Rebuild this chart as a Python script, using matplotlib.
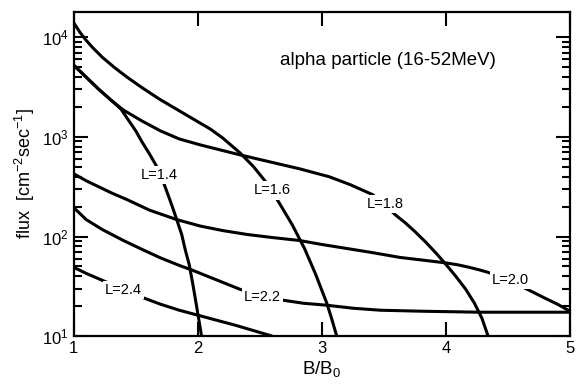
import matplotlib
matplotlib.use("Agg")
import matplotlib.pyplot as plt
import numpy as np
from matplotlib.ticker import LogLocator, NullFormatter, FixedLocator

plt.rcParams['font.family'] = ['Liberation Sans', 'DejaVu Sans']
plt.rcParams['mathtext.default'] = 'regular'

# data: B/B0 and log10(flux)
b_14 = [1.0, 1.1, 1.2, 1.3, 1.38, 1.44, 1.5, 1.55, 1.61, 1.67, 1.73, 1.78, 1.83, 1.87, 1.90, 1.93, 1.96, 1.99, 2.01, 2.03]
lf_14 = [3.72, 3.60, 3.48, 3.37, 3.28, 3.17, 3.06, 2.95, 2.83, 2.70, 2.52, 2.35, 2.17, 2.02, 1.86, 1.72, 1.52, 1.30, 1.15, 1.0]

b_16 = [1.0, 1.05, 1.1, 1.15, 1.23, 1.33, 1.43, 1.55, 1.69, 1.84, 1.99, 2.1, 2.2, 2.34, 2.45, 2.56, 2.66, 2.76, 2.86, 2.95, 3.04, 3.08, 3.12]
lf_16 = [4.146, 4.05, 3.97, 3.90, 3.80, 3.695, 3.60, 3.495, 3.38, 3.27, 3.16, 3.08, 2.99, 2.84, 2.70, 2.53, 2.33, 2.12, 1.88, 1.62, 1.33, 1.17, 1.0]

b_18 = [1.0, 1.1, 1.2, 1.3, 1.4, 1.55, 1.7, 1.85, 2.02, 2.18, 2.34, 2.58, 2.82, 3.06, 3.23, 3.41, 3.5, 3.59, 3.67, 3.75, 3.84, 3.93, 4.0, 4.08, 4.16, 4.23, 4.29, 4.34]
lf_18 = [3.72, 3.60, 3.48, 3.37, 3.27, 3.16, 3.06, 2.98, 2.92, 2.87, 2.82, 2.75, 2.68, 2.60, 2.52, 2.42, 2.33, 2.22, 2.14, 2.05, 1.94, 1.82, 1.72, 1.60, 1.47, 1.33, 1.18, 1.0]

b_20 = [1.0, 1.1, 1.2, 1.3, 1.43, 1.61, 1.83, 2.02, 2.2, 2.4, 2.6, 2.82, 3.0, 3.2, 3.4, 3.63, 3.8, 4.0, 4.1, 4.19, 4.27, 4.34, 4.42, 4.5, 4.57, 4.64, 4.72, 4.8, 4.9, 5.0]
lf_20 = [2.63, 2.56, 2.50, 2.44, 2.37, 2.265, 2.17, 2.105, 2.06, 2.02, 1.99, 1.96, 1.92, 1.88, 1.84, 1.79, 1.765, 1.735, 1.715, 1.69, 1.665, 1.64, 1.605, 1.565, 1.525, 1.48, 1.43, 1.38, 1.32, 1.25]

b_22 = [1.0, 1.1, 1.23, 1.4, 1.56, 1.7, 1.85, 1.96, 2.15, 2.34, 2.5, 2.69, 2.85, 3.04, 3.25, 3.47, 3.8, 4.27, 5.0]
lf_22 = [2.29, 2.17, 2.07, 1.96, 1.865, 1.785, 1.71, 1.66, 1.565, 1.47, 1.41, 1.36, 1.33, 1.31, 1.28, 1.26, 1.25, 1.24, 1.24]

b_24 = [1.0, 1.1, 1.23, 1.4, 1.57, 1.7, 1.85, 2.0, 2.15, 2.3, 2.45, 2.6]
lf_24 = [1.69, 1.63, 1.56, 1.47, 1.38, 1.32, 1.26, 1.21, 1.16, 1.11, 1.055, 1.0]

curve_names = ["L=1.4", "L=1.6", "L=1.8", "L=2.0", "L=2.2", "L=2.4"]
label_b = [1.69, 2.60, 3.51, 4.52, 2.52, 1.40]
label_f = [415, 290, 210, 36.6, 24.5, 29]

fig = plt.figure(figsize=(5.81, 3.85), dpi=100)
ax = fig.add_axes([0.127, 0.127, 0.854, 0.842])

curves = [(b_14, lf_14), (b_16, lf_16), (b_18, lf_18), (b_20, lf_20), (b_22, lf_22), (b_24, lf_24)]
for b, lf in curves:
    ax.plot(b, 10 ** np.array(lf), color='black', lw=2.2, solid_capstyle='butt', zorder=2)

# curve labels sit on a white patch so the line looks broken there
for name, xb, yf in zip(curve_names, label_b, label_f):
    ax.text(xb, yf, name, fontsize=10.5, ha='center', va='center', zorder=3,
            bbox=dict(facecolor='white', edgecolor='none', pad=1.5))

ax.set_yscale('log')
ax.set_xlim(1, 5)
ax.set_ylim(10, 1.8e4)
ax.xaxis.set_major_locator(FixedLocator([1, 2, 3, 4, 5]))
ax.yaxis.set_major_locator(LogLocator(base=10))
ax.yaxis.set_minor_locator(LogLocator(base=10, subs=range(2, 10)))
ax.yaxis.set_minor_formatter(NullFormatter())

ax.tick_params(which='both', direction='in', top=True, right=True, width=1.5, labelsize=12)
ax.tick_params(which='major', length=10)
ax.tick_params(which='minor', length=6)
for s in ax.spines.values():
    s.set_linewidth(1.6)

ax.set_xlabel('B/B$_0$', fontsize=13.5, labelpad=2)
ax.set_ylabel('flux  [cm$^{-2}$sec$^{-1}$]', fontsize=13, labelpad=4)

ax.text(0.633, 0.85, 'alpha particle (16-52MeV)', transform=ax.transAxes,
        fontsize=13.5, ha='center', va='center')

fig.savefig('out.png', dpi=100)
